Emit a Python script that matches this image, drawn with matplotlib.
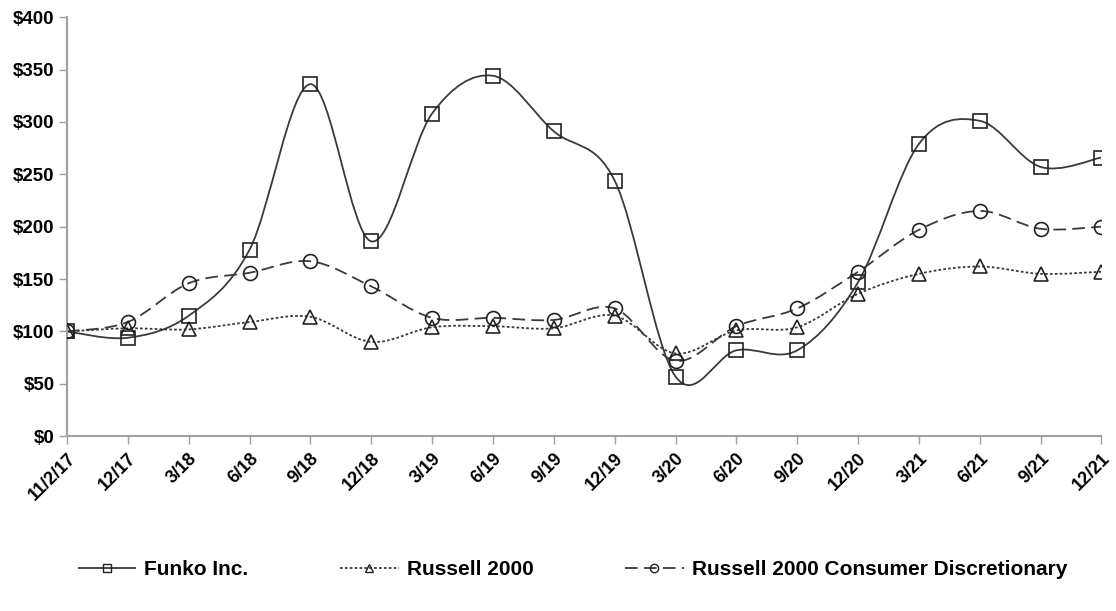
import matplotlib
matplotlib.use("Agg")
import matplotlib.pyplot as plt
from matplotlib.path import Path
from matplotlib.patches import PathPatch
from matplotlib.lines import Line2D
import numpy as np

categories = ["11/2/17", "12/17", "3/18", "6/18", "9/18", "12/18", "3/19", "6/19",
              "9/19", "12/19", "3/20", "6/20", "9/20", "12/20", "3/21", "6/21",
              "9/21", "12/21"]
funko = [100, 94, 115, 178, 336, 186, 308, 344, 291, 244, 57, 82, 82, 147, 279, 301, 257, 266]
russell = [100, 103, 102, 109, 114, 90, 104, 105, 103, 115, 79, 101, 104, 136, 155, 162, 155, 157]
consumer = [100, 109, 146, 156, 167, 143, 113, 113, 111, 122, 72, 105, 122, 157, 197, 215, 198, 200]
series_names = ["Funko Inc.", "Russell 2000", "Russell 2000 Consumer Discretionary"]
yticks = [0, 50, 100, 150, 200, 250, 300, 350, 400]

plt.rcParams['font.family'] = ['Liberation Sans', 'DejaVu Sans']
plt.rcParams['font.weight'] = 'bold'

fig = plt.figure(figsize=(11.16, 6.11), dpi=100)
ax = fig.add_axes([0.060, 0.286, 0.927, 0.686])

col = "#3a3a3a"


def smooth_path(xs, ys):
    pts = np.column_stack([xs, ys]).astype(float)
    n = len(pts)
    verts = [pts[0]]
    codes = [Path.MOVETO]
    for i in range(n - 1):
        p0 = pts[i - 1] if i > 0 else pts[i]
        p1 = pts[i]
        p2 = pts[i + 1]
        p3 = pts[i + 2] if i + 2 < n else pts[i + 1]
        c1 = p1 + (p2 - p0) / 6.0
        c2 = p2 - (p3 - p1) / 6.0
        verts += [c1, c2, p2]
        codes += [Path.CURVE4] * 3
    return Path(verts, codes)


x = np.arange(len(categories))
styles = [
    (funko, "s", (0, ())),
    (russell, "^", (0, (1.5, 1.2))),
    (consumer, "o", (0, (7, 3.5))),
]
handles = []
for (vals, mk, ls), name in zip(styles, series_names):
    p = PathPatch(smooth_path(x, vals), fill=False, edgecolor=col, lw=1.3, linestyle=ls, zorder=2)
    ax.add_patch(p)
    ax.plot(x, vals, linestyle="none", marker=mk, markersize=10, markerfacecolor="none",
            markeredgecolor="#222222", markeredgewidth=1.2, zorder=3)
    handles.append(Line2D([0], [0], color=col, lw=1.3, linestyle=ls, marker=mk, markersize=6,
                          markerfacecolor="none", markeredgecolor="#222222", markeredgewidth=1.0))

ax.set_xlim(0, len(categories) - 1)
ax.set_ylim(0, 400)
ax.set_yticks(yticks)
ax.set_yticklabels([f"${v}" for v in yticks], fontsize=13.5, fontweight="bold")
ax.set_xticks(x)
ax.set_xticklabels(categories, rotation=45, ha="right", rotation_mode="anchor",
                   fontsize=13, fontweight="bold")
for s in ["top", "right"]:
    ax.spines[s].set_visible(False)
for s in ["left", "bottom"]:
    ax.spines[s].set_color("#a0a0a0")
    ax.spines[s].set_linewidth(1.5)
ax.tick_params(axis="both", direction="out", color="#a0a0a0", length=6, width=1.0, pad=3)
ax.tick_params(axis="x", pad=4)

fig.legend(handles, series_names, loc="center", bbox_to_anchor=(0.513, 0.068), ncol=3,
           frameon=False, handlelength=2.8, columnspacing=4.4, handletextpad=0.4,
           prop={"weight": "bold", "size": 15})

fig.savefig("out.png", dpi=100)
